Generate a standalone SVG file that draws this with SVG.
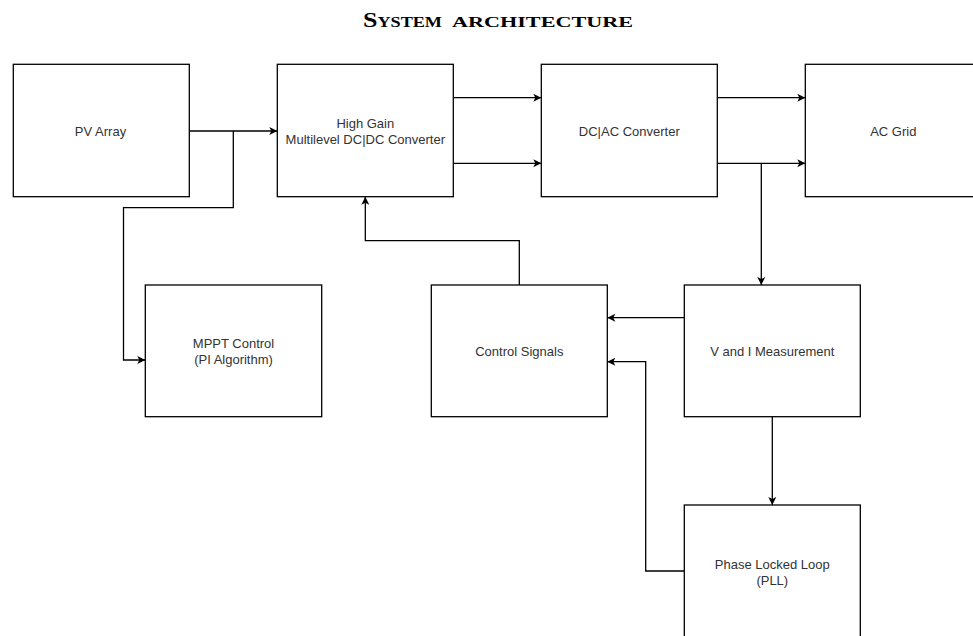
<svg xmlns="http://www.w3.org/2000/svg" width="973" height="636" viewBox="0 0 973 636">
  <style>
    .box { fill: #ffffff; stroke: #000000; stroke-width: 1.3; }
    .lbl { font-family: "Liberation Sans", Arial, sans-serif; font-size: 13px; fill: #333333; text-anchor: middle; }
    .conn { fill: none; stroke: #000000; stroke-width: 1.3; marker-end: url(#arr); }
    .title { font-family: "Liberation Serif", "Times New Roman", serif; font-weight: bold; font-size: 15px; fill: #000000; }
  </style>
  <defs>
    <marker id="arr" markerUnits="userSpaceOnUse" viewBox="-9 -5 10 10" refX="0" refY="0" markerWidth="10" markerHeight="10" orient="auto">
      <path d="M0,0 L-8,-4 L-6,0 L-8,4 Z" fill="#000000"/>
    </marker>
  </defs>
  <rect width="973" height="636" fill="#ffffff"/>

  <g id="title">
    <text class="title" x="363" y="27" textLength="79" lengthAdjust="spacingAndGlyphs"><tspan font-size="21.5">S</tspan>YSTEM</text>
    <text class="title" x="452" y="27" textLength="181" lengthAdjust="spacingAndGlyphs">ARCHITECTURE</text>
  </g>

  <g id="connectors">
    <path class="conn" d="M189.3,131 L277.3,131"/>
    <path class="conn" d="M233.3,131 L233.3,207.7 L123.5,207.7 L123.5,360 L145.3,360"/>
    <path class="conn" d="M453.3,97.7 L541.3,97.7"/>
    <path class="conn" d="M453.3,163.3 L541.3,163.3"/>
    <path class="conn" d="M717.3,97.7 L805.3,97.7"/>
    <path class="conn" d="M717.3,163.3 L805.3,163.3"/>
    <path class="conn" d="M761.3,163.3 L761.3,285"/>
    <path class="conn" d="M519.3,285 L519.3,240.7 L365.3,240.7 L365.3,196.7"/>
    <path class="conn" d="M684.3,317.7 L607.3,317.7"/>
    <path class="conn" d="M684.3,571 L645.7,571 L645.7,361.7 L607.3,361.7"/>
    <path class="conn" d="M772.3,416.7 L772.3,505"/>
  </g>

  <g id="pv-array">
    <rect class="box" x="13.3" y="64.3" width="176" height="132.4"/>
    <text class="lbl" x="100.5" y="136">PV Array</text>
  </g>
  <g id="high-gain-converter">
    <rect class="box" x="277.3" y="64.3" width="176" height="132.4"/>
    <text class="lbl" x="365.3" y="128">High Gain</text>
    <text class="lbl" x="365.3" y="144">Multilevel DC|DC Converter</text>
  </g>
  <g id="dcac-converter">
    <rect class="box" x="541.3" y="64.3" width="176" height="132.4"/>
    <text class="lbl" x="629.3" y="136">DC|AC Converter</text>
  </g>
  <g id="ac-grid">
    <rect class="box" x="805.3" y="64.3" width="176" height="132.4"/>
    <text class="lbl" x="893.3" y="136">AC Grid</text>
  </g>
  <g id="mppt-control">
    <rect class="box" x="145.3" y="285" width="176.4" height="131.7"/>
    <text class="lbl" x="233.5" y="348">MPPT Control</text>
    <text class="lbl" x="233.5" y="364">(PI Algorithm)</text>
  </g>
  <g id="control-signals">
    <rect class="box" x="431.3" y="285" width="176" height="131.7"/>
    <text class="lbl" x="519.3" y="356">Control Signals</text>
  </g>
  <g id="vi-measurement">
    <rect class="box" x="684.3" y="285" width="176" height="131.7"/>
    <text class="lbl" x="772.3" y="356">V and I Measurement</text>
  </g>
  <g id="pll">
    <rect class="box" x="684.3" y="505" width="176" height="140"/>
    <text class="lbl" x="772.3" y="569">Phase Locked Loop</text>
    <text class="lbl" x="772.3" y="585">(PLL)</text>
  </g>
</svg>
